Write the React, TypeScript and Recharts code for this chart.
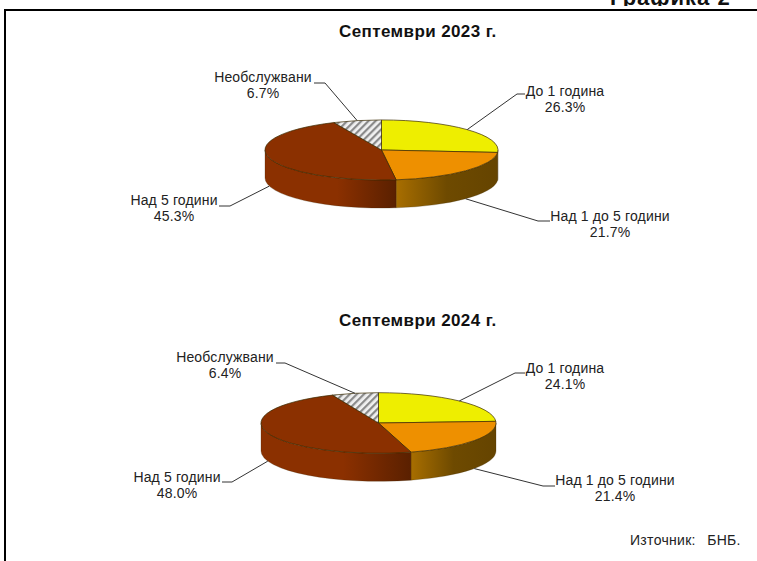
import { PieChart, Pie } from 'recharts';

const categories = ['До 1 година', 'Над 1 до 5 години', 'Над 5 години', 'Необслужвани'];
const values2023 = [26.3, 21.7, 45.3, 6.7];
const values2024 = [24.1, 21.4, 48.0, 6.4];
const sliceColors = ['#eeee00', '#ee9000', '#8b3000', 'url(#hatch)'];
const wallFills = ['#6b4800', 'url(#wallOrange)', 'url(#wallBrown)', '#777777'];

const DEPTH = 28;
const TILT = 0.258;

// where the leader line bends, and where the text block sits
const layout2023 = [
  { elbow: [517, 94], stub: 525, textX: 565, textY: 96, onWall: false },
  { elbow: [538, 221], stub: 550, textX: 610, textY: 221, onWall: true },
  { elbow: [230, 206], stub: 219, textX: 174, textY: 205, onWall: true },
  { elbow: [325, 83], stub: 314, textX: 263, textY: 82, onWall: false },
];
const layout2024 = [
  { elbow: [515, 373], stub: 525, textX: 565, textY: 373, onWall: false },
  { elbow: [543, 486], stub: 555, textX: 615, textY: 485, onWall: true },
  { elbow: [232, 482], stub: 222, textX: 177, textY: 482, onWall: true },
  { elbow: [285, 363], stub: 276, textX: 225, textY: 362, onWall: false },
];

const toTable = (vals: number[]) =>
  categories.map((name, i) => ({ name, value: vals[i], idx: i, fill: sliceColors[i] }));

const rimPoint = (cx: number, cy: number, r: number, deg: number) => {
  const a = (deg * Math.PI) / 180;
  return [cx + r * Math.cos(a), cy - r * TILT * Math.sin(a)];
};

function Slice(props: any) {
  const { cx, cy, outerRadius: r, startAngle, endAngle, fill, payload } = props;
  const ry = r * TILT;
  const [x1, y1] = rimPoint(cx, cy, r, startAngle);
  const [x2, y2] = rimPoint(cx, cy, r, endAngle);
  const large = startAngle - endAngle > 180 ? 1 : 0;
  const top = `M${cx} ${cy}L${x1} ${y1}A${r} ${ry} 0 ${large} 1 ${x2} ${y2}Z`;

  // the wall only shows on the front half, angles 0 to -180
  const from = Math.min(startAngle, 0);
  const to = Math.max(endAngle, -180);
  let wall = null;
  if (from > to) {
    const [wx1, wy1] = rimPoint(cx, cy, r, from);
    const [wx2, wy2] = rimPoint(cx, cy, r, to);
    const d = `M${wx1} ${wy1}A${r} ${ry} 0 0 1 ${wx2} ${wy2}L${wx2} ${wy2 + DEPTH}A${r} ${ry} 0 0 0 ${wx1} ${wy1 + DEPTH}Z`;
    wall = <path d={d} fill={wallFills[payload.idx]} stroke="#3a2600" strokeWidth={0.25} />;
  }
  return (
    <g>
      {wall}
      <path d={top} fill={fill} stroke="#3a2a00" strokeWidth={0.7} />
    </g>
  );
}

const makeLabel = (layout: typeof layout2023, cx: number, cy: number, r: number) => (props: any) => {
  const { index, midAngle, value, name } = props;
  const l = layout[index];
  const [px, py] = rimPoint(cx, cy, r, midAngle);
  const pts = `${px},${py + (l.onWall ? DEPTH : 0)} ${l.elbow[0]},${l.elbow[1]} ${l.stub},${l.elbow[1]}`;
  return (
    <g>
      <polyline points={pts} fill="none" stroke="#333" strokeWidth={1} />
      <text x={l.textX} y={l.textY} textAnchor="middle" fontSize={14} letterSpacing={0.15} fill="#222" fontFamily="Liberation Sans">
        <tspan x={l.textX}>{name}</tspan>
        <tspan x={l.textX} dy={16}>{Number(value).toFixed(1)}%</tspan>
      </text>
    </g>
  );
};

const titleStyle: React.CSSProperties = {
  position: 'absolute',
  fontFamily: 'Liberation Sans',
  fontWeight: 700,
  fontSize: 17,
  letterSpacing: 0.4,
  color: '#111',
  whiteSpace: 'nowrap',
};

export default function App() {
  return (
    <div style={{ position: 'absolute', left: 0, top: 0, width: 757, height: 561, overflow: 'hidden', background: '#fff' }}>
      {/* heading is cut by the crop of the page, only its bottom edge shows */}
      <div style={{ position: 'absolute', left: 0, top: 0, width: 757, height: 6, overflow: 'hidden' }}>
        <div style={{ ...titleStyle, left: 610, top: -15, fontSize: 22, letterSpacing: 1 }}>Графика 2</div>
      </div>
      <div style={{ position: 'absolute', left: 4, top: 9, width: 770, height: 570, border: '2px solid #000', boxSizing: 'border-box' }} />
      <div style={{ ...titleStyle, left: 339, top: 22 }}>Септември 2023 г.</div>
      <div style={{ ...titleStyle, left: 339, top: 311 }}>Септември 2024 г.</div>
      <div style={{ position: 'absolute', left: 630, top: 532, fontFamily: 'Liberation Sans', fontSize: 14, letterSpacing: 0.3, wordSpacing: 1.5, color: '#222', whiteSpace: 'pre' }}>Източник:  БНБ.</div>
      <div style={{ position: 'absolute', left: 0, top: 0 }}>
        <PieChart width={757} height={561} margin={{ top: 0, right: 0, bottom: 0, left: 0 }}>
          <defs>
            <pattern id="hatch" width="5" height="5" patternUnits="userSpaceOnUse" patternTransform="rotate(45)">
              <rect width="5" height="5" fill="#f0f0f0" />
              <rect width="2.2" height="5" fill="#8a8a8a" />
            </pattern>
            <linearGradient id="wallBrown" x1="0" y1="0" x2="1" y2="0">
              <stop offset="0" stopColor="#8b3000" />
              <stop offset="0.55" stopColor="#8b3000" />
              <stop offset="1" stopColor="#5a2000" />
            </linearGradient>
            <linearGradient id="wallOrange" x1="0" y1="0" x2="1" y2="0">
              <stop offset="0" stopColor="#a86e00" />
              <stop offset="0.5" stopColor="#6e4a00" />
              <stop offset="1" stopColor="#654400" />
            </linearGradient>
          </defs>
          <Pie
            data={toTable(values2023)}
            dataKey="value"
            nameKey="name"
            cx={381.5}
            cy={150}
            outerRadius={116.5}
            startAngle={90}
            endAngle={-270}
            shape={Slice}
            label={makeLabel(layout2023, 381.5, 150, 116.5)}
            labelLine={false}
            isAnimationActive={false}
          />
          <Pie
            data={toTable(values2024)}
            dataKey="value"
            nameKey="name"
            cx={378.5}
            cy={423}
            outerRadius={117.5}
            startAngle={90}
            endAngle={-270}
            shape={Slice}
            label={makeLabel(layout2024, 378.5, 423, 117.5)}
            labelLine={false}
            isAnimationActive={false}
          />
        </PieChart>
      </div>
    </div>
  );
}
